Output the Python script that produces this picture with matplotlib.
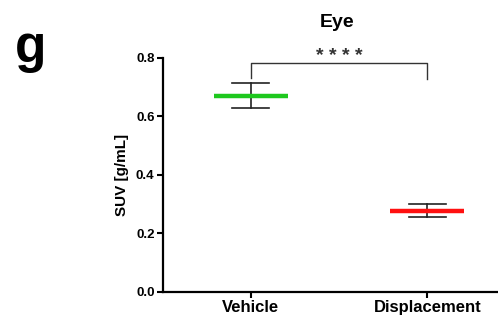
import numpy as np
import matplotlib
matplotlib.use('Agg')
import matplotlib.pyplot as plt

groups = ['Vehicle', 'Displacement']
means = [0.671, 0.278]
err_upper = [0.713, 0.301]
err_lower = [0.628, 0.257]
colors = ['#1ec81e', '#ff1010']
yticks = [0.0, 0.2, 0.4, 0.6, 0.8]
ytick_labels = ['0.0', '0.2', '0.4', '0.6', '0.8']
sig_label = '* * * *'

plt.rcParams['font.family'] = ['Liberation Sans', 'DejaVu Sans']
plt.rcParams['font.weight'] = 'bold'
plt.rcParams['axes.titleweight'] = 'bold'
plt.rcParams['axes.labelweight'] = 'bold'

fig = plt.figure(figsize=(4.98, 3.2), dpi=100)
ax = fig.add_axes([0.327, 0.0875, 0.68, 0.7315])

x = np.arange(len(groups))
for i in x:
    ax.plot([i - 0.21, i + 0.21], [means[i], means[i]], color=colors[i], lw=3.2,
            solid_capstyle='butt', zorder=3)
    ax.plot([i, i], [err_lower[i], err_upper[i]], color='#222222', lw=1.2, zorder=2)
    for v in (err_lower[i], err_upper[i]):
        ax.plot([i - 0.105, i + 0.105], [v, v], color='#222222', lw=1.2, zorder=2)

# significance bracket
yb = 0.784
ax.plot([0, 0, 1, 1], [0.73, yb, yb, 0.727], color='#333333', lw=1.0, clip_on=False)
ax.text(0.5, 0.79, sig_label, ha='center', va='baseline', fontsize=14, color='#333333',
        fontweight='bold')

ax.set_xlim(-0.497, 1.42)
ax.set_ylim(0, 0.8)
ax.set_xticks(x)
ax.set_xticklabels(groups, fontsize=12)
ax.set_yticks(yticks)
ax.set_yticklabels(ytick_labels, fontsize=9.5)
ax.set_ylabel('SUV [g/mL]', fontsize=11, labelpad=5)
ax.set_title('Eye', fontsize=14, pad=22, x=0.514)

for s in ['top', 'right']:
    ax.spines[s].set_visible(False)
for s in ['left', 'bottom']:
    ax.spines[s].set_linewidth(1.6)
ax.tick_params(direction='out', length=4, width=1.5, pad=2)

fig.text(0.03, 0.805, 'g', fontsize=37, fontweight='bold')

fig.savefig('out.png', dpi=100)
